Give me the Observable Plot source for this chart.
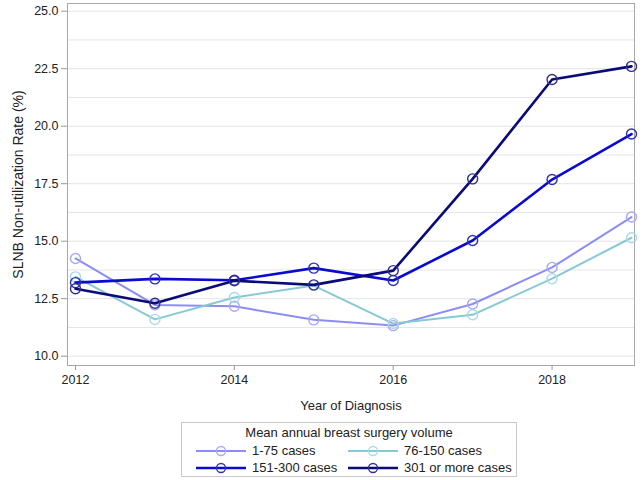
<!DOCTYPE html>
<html>
<head>
<meta charset="utf-8">
<script src="https://cdn.jsdelivr.net/npm/d3@7"></script>
<script src="https://cdn.jsdelivr.net/npm/@observablehq/plot@0.6"></script>
<style>
  html, body { margin: 0; padding: 0; background: #fff; }
  body { width: 644px; height: 480px; position: relative; font-family: "Liberation Sans", Arial, sans-serif; overflow: hidden; }
  #legend { position: absolute; left: 181px; top: 422px; width: 336px; height: 55px; border: 1px solid #c8c8c8; box-sizing: border-box; font-size: 13px; color: #222; }
  #legend .title { position: absolute; left: 0; right: 0; top: 2px; text-align: center; }
  #legend .item { position: absolute; display: flex; align-items: center; white-space: nowrap; }
  #legend svg { margin-right: 5px; }
</style>
</head>
<body>
<div id="chart"></div>
<div id="legend"></div>
<script>
const years = [2012, 2013, 2014, 2015, 2016, 2017, 2018, 2019];
const seriesNames = ["1-75 cases", "76-150 cases", "151-300 cases", "301 or more cases"];
const vol1to75 = [14.25, 12.23, 12.17, 11.58, 11.33, 12.27, 13.86, 16.05];
const vol76to150 = [13.45, 11.6, 12.55, 13.07, 11.42, 11.8, 13.37, 15.15];
const vol151to300 = [13.2, 13.36, 13.3, 13.83, 13.29, 15.03, 17.68, 19.66];
const vol301plus = [12.93, 12.3, 13.28, 13.1, 13.72, 17.71, 22.03, 22.6];
const lineColors = ["#8c8cf4", "#86c9d6", "#0a0ad0", "#0a0a78"];
const markerColors = ["#a8a8f6", "#a8dbe4", "#3030b0", "#30308c"];
const lineWidths = [2, 2, 2.6, 2.6];
const xTicks = [2012, 2014, 2016, 2018];
const yTicks = [10, 12.5, 15, 17.5, 20, 22.5, 25];
const yGrid = [10, 11.25, 12.5, 13.75, 15, 16.25, 17.5, 18.75, 20, 21.25, 22.5, 23.75, 25];

const allSeries = [vol1to75, vol76to150, vol151to300, vol301plus];
const rows = [];
allSeries.forEach((vals, i) => vals.forEach((v, j) => rows.push({year: years[j], value: v, series: seriesNames[i], idx: i})));

const marks = [
  Plot.gridY(yGrid, {stroke: "#e4e4e4", strokeOpacity: 1, strokeWidth: 1}),
  Plot.frame({stroke: "#a8a8a8"}),
  Plot.axisY(yTicks, {tickFormat: d => d.toFixed(1), tickSize: 6, tickPadding: 3, stroke: "#999", fill: "#222", label: null}),
  Plot.axisY({label: "SLNB Non-utilization Rate (%)", labelAnchor: "center", labelArrow: "none", labelOffset: 54, ticks: [], fontSize: 14, fill: "#222"}),
  Plot.axisX(xTicks, {tickFormat: d => String(d), tickSize: 5, tickPadding: 5, stroke: "#999", fill: "#222", label: null}),
  Plot.axisX({label: "Year of Diagnosis", labelAnchor: "center", labelArrow: "none", labelOffset: 44, ticks: [], fontSize: 13, fill: "#222"})
];
seriesNames.forEach((name, i) => {
  const data = rows.filter(r => r.idx === i);
  marks.push(Plot.line(data, {x: "year", y: "value", stroke: lineColors[i], strokeWidth: lineWidths[i]}));
  marks.push(Plot.dot(data, {x: "year", y: "value", r: 5, stroke: markerColors[i], strokeWidth: 1.4, fill: "none"}));
});

const chart = Plot.plot({
  width: 644,
  height: 416,
  marginLeft: 67,
  marginRight: 10,
  marginTop: 3,
  marginBottom: 51,
  style: {fontFamily: "'Liberation Sans', Arial, sans-serif", fontSize: "12.5px", color: "#222", background: "#fff"},
  x: {domain: [2012, 2019], range: [75, 631]},
  y: {domain: [10, 25], range: [355.7, 10.7]},
  marks
});
const tickStrings = new Set([...yTicks.map(d => d.toFixed(1)), ...xTicks.map(String)]);
chart.querySelectorAll("text").forEach(t => {
  if (tickStrings.has(t.textContent.trim())) t.style.fontSize = "12.5px";
});
document.getElementById("chart").appendChild(chart);

// legend
const legend = document.getElementById("legend");
const title = document.createElement("div");
title.className = "title";
title.textContent = "Mean annual breast surgery volume";
legend.appendChild(title);
const pos = [[13, 21], [165, 21], [13, 38], [165, 38]];
seriesNames.forEach((name, i) => {
  const item = document.createElement("div");
  item.className = "item";
  item.style.left = pos[i][0] + "px";
  item.style.top = (pos[i][1] - 1) + "px";
  item.innerHTML = `<svg width="52" height="14"><line x1="1" x2="51" y1="7" y2="7" stroke="${lineColors[i]}" stroke-width="${lineWidths[i]}"/><circle cx="26" cy="7" r="4.5" fill="none" stroke="${markerColors[i]}" stroke-width="1.3"/></svg><span>${name}</span>`;
  legend.appendChild(item);
});
</script>
</body>
</html>
